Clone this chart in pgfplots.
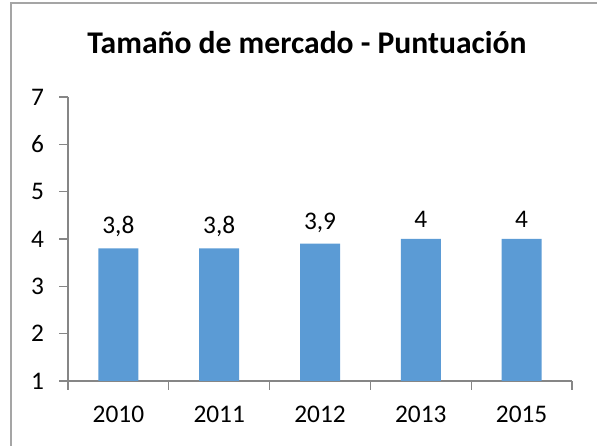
\documentclass[border=0pt]{standalone}
\usepackage{pgfplots}
\pgfplotsset{compat=1.18}
\usepackage{fontspec}
\setmainfont{Carlito}
\definecolor{barblue}{RGB}{91,155,213}
\definecolor{axgray}{RGB}{134,134,134}
\definecolor{bordergray}{RGB}{165,165,165}
\begin{document}
\begin{tikzpicture}
\draw[bordergray, line width=1.5pt] (8.6pt,-20pt) -- (8.6pt,331.9pt) -- (470pt,331.9pt);
\node[font=\bfseries\fontsize{23.7}{28}\selectfont, anchor=base] at (230.25pt,294.5pt) {Tamaño de mercado - Puntuación};
\begin{axis}[
  at={(51pt,48.75pt)}, anchor=south west,
  scale only axis, width=378pt, height=213pt,
  xmin=-0.5, xmax=4.5, ymin=1, ymax=7,
  axis x line=bottom, axis y line=left,
  axis line style={-, draw=axgray, line width=0.9pt},
  tick style={draw=axgray, line width=0.9pt},
  tick align=outside, major tick length=6.5pt,
  xtick={-0.5,0.5,...,4.5},
  xticklabels={2010,2011,2012,2013,2015},
  x tick label as interval,
  ytick={1,...,7},
  ticklabel style={font=\fontsize{19}{23}\selectfont},
  /pgf/number format/assume math mode=true,
  yticklabel style={xshift=-8pt},
  xticklabel style={yshift=-9pt},
  ybar, bar width=30pt,
  nodes near coords,
  nodes near coords style={font=\fontsize{19}{23}\selectfont, black, yshift=5pt, /pgf/number format/use comma},
]
\addplot[fill=barblue, draw=none] coordinates {(0,3.8) (1,3.8) (2,3.9) (3,4) (4,4)};
\end{axis}
\pgfresetboundingbox
\useasboundingbox (0pt,0pt) rectangle (447.75pt,334.5pt);
\end{tikzpicture}
\end{document}
